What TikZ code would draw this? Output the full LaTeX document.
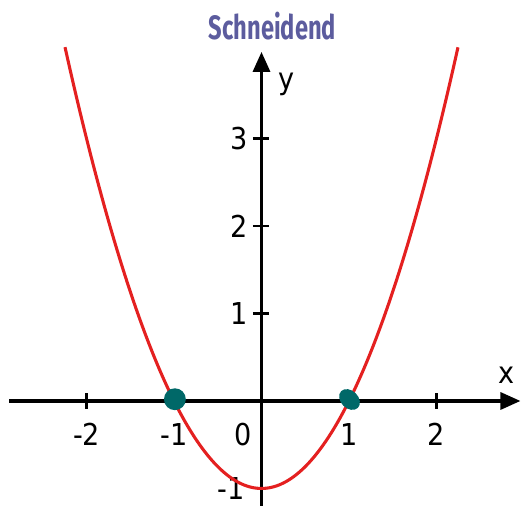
\documentclass[tikz,border=0pt]{standalone}
\usepackage{fontspec}
\setmainfont{DejaVu Sans Condensed}
\newfontfamily\titlefont{Fira Sans}
\usetikzlibrary{arrows.meta,shapes.geometric}
\definecolor{curvered}{RGB}{228,32,32}
\definecolor{rootteal}{RGB}{0,104,104}
\definecolor{titleblue}{RGB}{92,92,158}
\begin{document}
\begin{tikzpicture}[x=1cm,y=1cm,font=\fontsize{9.8}{11}\selectfont,
  axisline/.style={line width=1.1pt,-{Triangle[length=6.5pt,width=5.5pt]}},
  tickmark/.style={line width=0.7pt},
  ticklabel/.style={inner sep=0pt},
  rootdot/.style={fill=rootteal,draw=none,inner sep=0pt}]
\useasboundingbox (-2.989,-1.2) rectangle (2.966,4.583);
\coordinate (xstart) at (-2.886,0); \coordinate (xend) at (2.96,0);
\coordinate (ystart) at (0,-1.2); \coordinate (yend) at (0,3.99);
\draw[axisline] (xstart) -- (xend);
\draw[axisline] (ystart) -- (yend);
\foreach \i in {-2,-1,1,2} \draw[tickmark] (\i,-0.09) -- (\i,0.09);
\foreach \j in {1,2,3} \draw[tickmark] (-0.1,\j) -- (0.09,\j);
\foreach \i in {-2,-1,1,2} \node[ticklabel,anchor=north] (xl\i) at (\i,-0.25) {\i};
\node[ticklabel,anchor=north] (xl0) at (-0.21,-0.25) {0};
\foreach \j in {1,2,3} \node[ticklabel,anchor=east] (yl\j) at (-0.15,\j) {\j};
\node[ticklabel,anchor=east] (ylm1) at (-0.19,-1) {-1};
\node (xlabel) at (2.806,0.297) {x};
\node (ylabel) at (0.291,3.623) {y};
\draw[curvered,line width=1pt] plot[domain=-2.246:2.246,samples=80,smooth] (\x,{\x*\x-1});
\node[rootdot,circle,minimum size=0.25cm] (lroot) at (-0.99,0.02) {};
\node[rootdot,ellipse,minimum width=0.27cm,minimum height=0.2cm,rotate=-45] (rroot) at (1.006,0.017) {};
\node[font=\titlefont\bfseries\fontsize{11}{13}\selectfont,text=titleblue,xscale=0.7] (title) at (0.126,4.286) {Schneidend};
\end{tikzpicture}
\end{document}
